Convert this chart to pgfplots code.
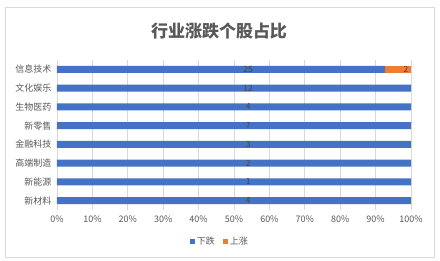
\documentclass[border=0pt]{standalone}
\usepackage{pgfplots}
\pgfplotsset{compat=1.18}
\usepackage{pgfplotstable}
\usepackage{fontspec}
\setmainfont{Noto Sans CJK SC}
\definecolor{cblue}{HTML}{4472C4}
\definecolor{corange}{HTML}{ED7D31}
\definecolor{ctext}{HTML}{595959}
\definecolor{cgrid}{HTML}{D9D9D9}
\pgfplotstableread{
idx down up
0 25 2
1 12 0
2 4 0
3 7 0
4 3 0
5 2 0
6 1 0
7 4 0
}\data
\begin{document}
\begin{tikzpicture}
\fill[white] (0pt,0pt) rectangle (440pt,261pt);
\draw[cgrid,line width=0.8pt] (5pt,4pt) rectangle (434pt,254pt);
\node[font=\bfseries\fontsize{17}{19}\selectfont,text=ctext] at (219pt,230pt) {行业涨跌个股占比};
\begin{axis}[
  at={(57pt,51pt)}, anchor=south west,
  scale only axis, width=354pt, height=150pt,
  xbar stacked, bar width=7pt,
  xmin=0, xmax=100, ymin=-0.5, ymax=7.5, y dir=reverse,
  ytick={0,...,7},
  yticklabels={信息技术,文化娱乐,生物医药,新零售,金融科技,高端制造,新能源,新材料},
  xtick={0,10,...,100},
  xticklabel={\pgfmathprintnumber{\tick}\%},
  /pgf/number format/assume math mode=true,
  xmajorgrids, grid style={cgrid,line width=0.6pt},
  axis line style={draw=none}, tick style={draw=none},
  ticklabel style={font=\fontsize{9}{10}\selectfont,text=ctext},
  yticklabel style={xshift=-2pt},
  xticklabel style={yshift=-2pt},
  legend style={at={(0.46,-0.213)}, anchor=center, draw=none, fill=none,
    legend columns=2, font=\fontsize{9}{10}\selectfont, text=ctext,
    /tikz/every even column/.append style={column sep=6pt}},
  legend image code/.code={\fill[#1] (0pt,-2.5pt) rectangle (5pt,2.5pt);},
]
\addplot[fill=cblue, draw=none] table[x expr={\thisrow{down}/(\thisrow{down}+\thisrow{up})*100}, y=idx] {\data};
\addlegendentry{下跌}
\addplot[fill=corange, draw=none] table[x expr={\thisrow{up}/(\thisrow{down}+\thisrow{up})*100}, y=idx] {\data};
\addlegendentry{上涨}
\end{axis}
\begin{axis}[
  at={(57pt,51pt)}, anchor=south west,
  scale only axis, width=354pt, height=150pt,
  xmin=0, xmax=100, ymin=-0.5, ymax=7.5, y dir=reverse,
  hide axis,
]
\addplot[draw=none, mark=none, nodes near coords, point meta=explicit symbolic,
  every node near coord/.append style={anchor=center, font=\fontsize{8.5}{9}\selectfont, text=ctext!80!black}]
  table[x expr=54, y=idx, meta=down] {\data};
\addplot[draw=none, mark=none, nodes near coords, point meta=explicit symbolic,
  every node near coord/.append style={anchor=center, font=\fontsize{8.5}{9}\selectfont, text=ctext!80!black}]
  coordinates {(98.6,0)[2]};
\end{axis}
\end{tikzpicture}
\end{document}
